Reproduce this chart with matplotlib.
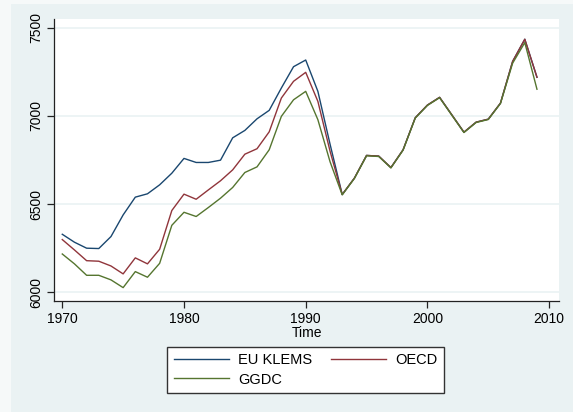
import matplotlib.pyplot as plt
from matplotlib.patches import Rectangle

plt.rcParams['font.family'] = ['Liberation Sans', 'DejaVu Sans']

# data
years = list(range(1970, 2010))
eu_klems = [6328, 6283, 6249, 6247, 6315, 6438, 6539, 6558, 6609, 6675,
            6759, 6736, 6736, 6749, 6876, 6918, 6984, 7032, 7159, 7280,
            7318, 7140, 6840, 6554, 6647, 6776, 6772, 6707, 6808, 6990,
            7062, 7106, 7007, 6908, 6965, 6982, 7073, 7310, 7436, 7220]
oecd = [6298, 6239, 6178, 6175, 6148, 6103, 6194, 6160, 6243, 6463,
        6556, 6527, 6580, 6632, 6694, 6783, 6814, 6910, 7102, 7197,
        7248, 7083, 6800, 6554, 6647, 6776, 6772, 6707, 6808, 6990,
        7062, 7106, 7007, 6908, 6965, 6982, 7073, 7310, 7436, 7220]
ggdc = [6216, 6160, 6095, 6095, 6069, 6025, 6116, 6084, 6163, 6379,
        6453, 6429, 6480, 6533, 6594, 6679, 6711, 6808, 6998, 7092,
        7140, 6979, 6740, 6552, 6645, 6774, 6770, 6705, 6806, 6988,
        7060, 7104, 7005, 6906, 6963, 6980, 7071, 7300, 7417, 7152]
x_ticks = [1970, 1980, 1990, 2000, 2010]
y_ticks = [6000, 6500, 7000, 7500]

bg = '#EAF2F3'
fig = plt.figure(figsize=(5.73, 4.12), dpi=100, facecolor=bg)
# lighter strips at left and top edge
fig.patches.append(Rectangle((0, 0), 11 / 573, 1, transform=fig.transFigure,
                             facecolor='#F6F9F9', edgecolor='none', zorder=0))
fig.patches.append(Rectangle((0, 1 - 4 / 412), 1, 4 / 412, transform=fig.transFigure,
                             facecolor='#F6F9F9', edgecolor='none', zorder=0))

ax = fig.add_axes([54 / 573, 111 / 412, 505 / 573, 282 / 412])
ax.set_facecolor('white')

l1, = ax.plot(years, eu_klems, color='#1A476F', lw=1.0, label='EU KLEMS')
l2, = ax.plot(years, oecd, color='#90353B', lw=1.0, label='OECD')
l3, = ax.plot(years, ggdc, color='#55752F', lw=1.0, label='GGDC')

ax.set_xlim(1969.32, 2010.81)
ax.set_ylim(5949, 7551)
ax.set_xticks(x_ticks)
ax.set_yticks(y_ticks)
ax.set_yticklabels([str(v) for v in y_ticks], rotation=90, va='center')
ax.grid(axis='y', color=bg, lw=1.2)
ax.set_axisbelow(True)

for s in ['top', 'right']:
    ax.spines[s].set_visible(False)
for s in ['left', 'bottom']:
    ax.spines[s].set_color('#222222')
    ax.spines[s].set_linewidth(0.9)
ax.tick_params(direction='out', length=5, width=0.9, color='#222222',
               labelsize=10, pad=3)
ax.set_xlabel('Time', fontsize=10, labelpad=0)

# legend filled row by row: EU KLEMS, OECD / GGDC
fig.legend([l1, l3, l2], ['EU KLEMS', 'GGDC', 'OECD'],
           loc='center', bbox_to_anchor=(0.5332, 0.102), ncol=2, fontsize=10.5,
           frameon=True, fancybox=False, edgecolor='#333333', framealpha=1,
           handlelength=3.8, columnspacing=1.3, handletextpad=0.6,
           borderpad=0.45, labelspacing=0.35)

plt.savefig('out.png', dpi=100, facecolor=bg)
